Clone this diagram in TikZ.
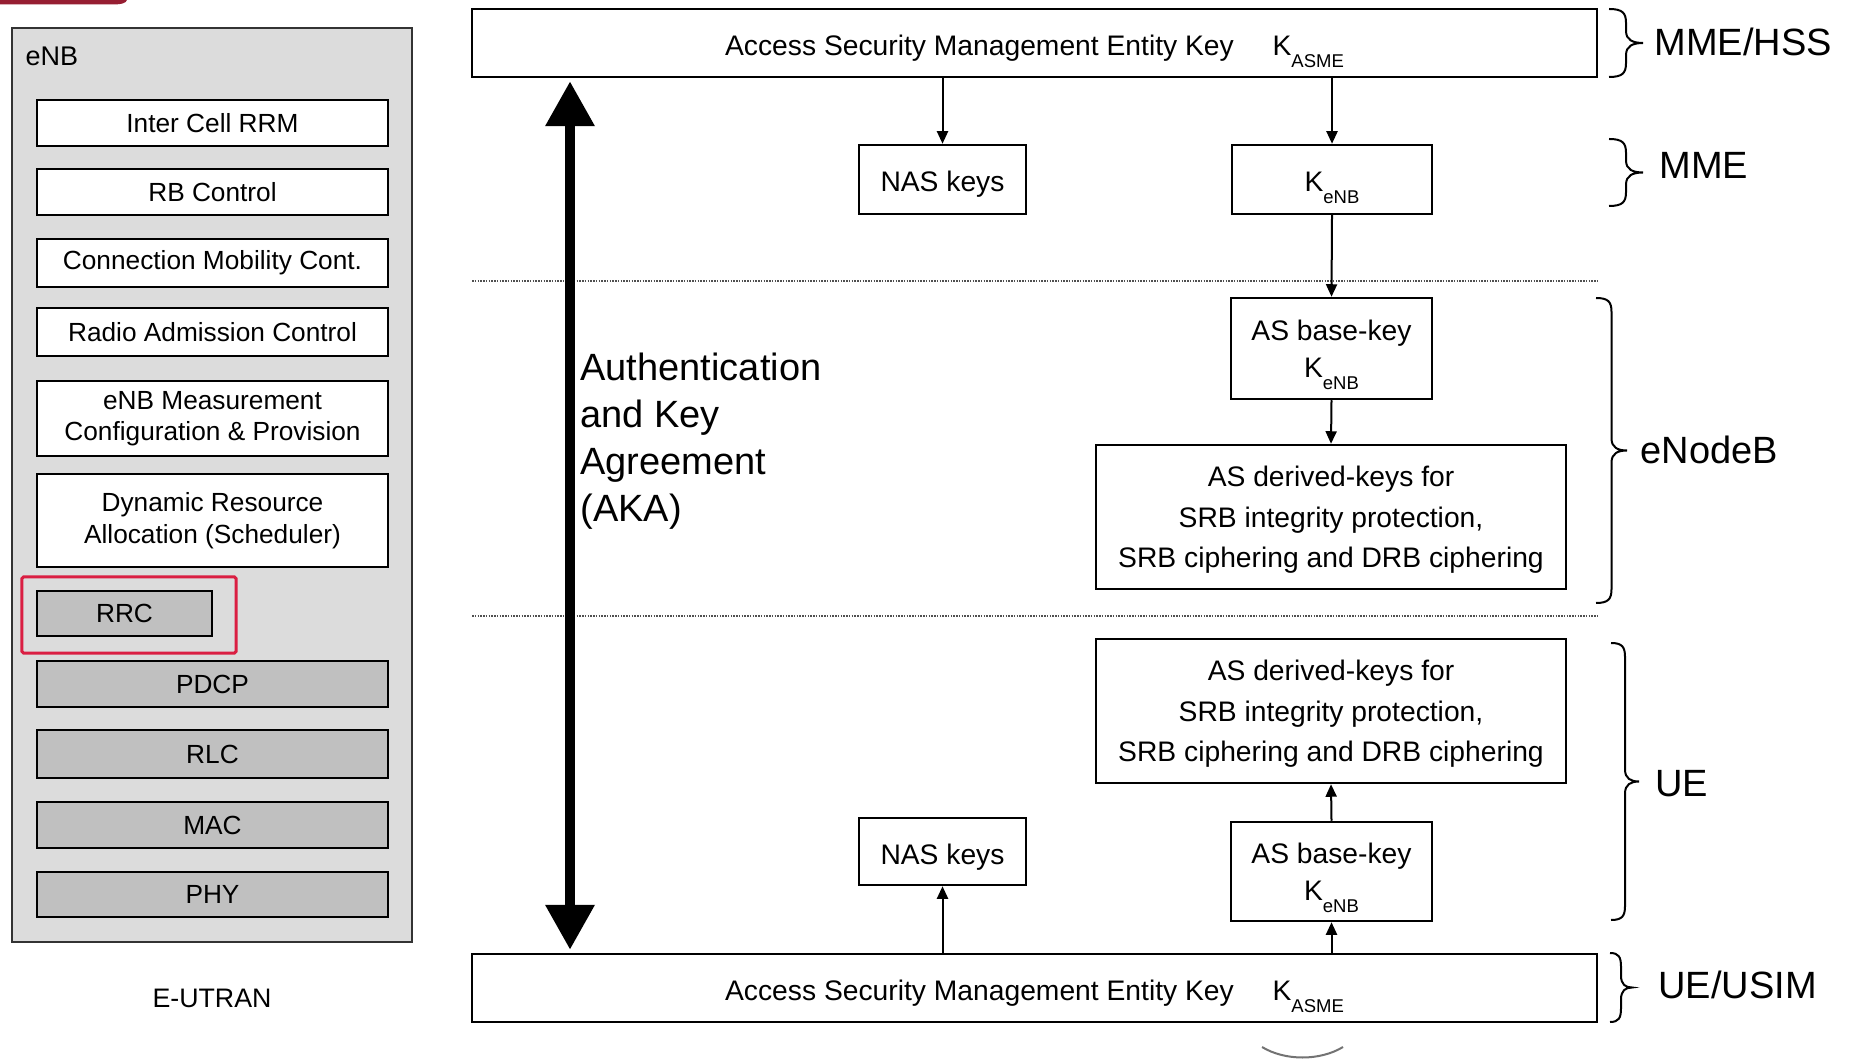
\documentclass[tikz,border=0pt]{standalone}
\usepackage{fontspec}
\setmainfont{Liberation Sans}
\usepackage{graphicx}
\usetikzlibrary{arrows.meta}

\definecolor{panelgray}{RGB}{220,220,220}
\definecolor{layergray}{RGB}{192,192,192}
\definecolor{markred}{RGB}{218,30,66}
\definecolor{logored}{RGB}{150,30,50}
\definecolor{dotgray}{RGB}{80,80,80}

% key symbol with a lowered, smaller index that does not change the line depth
\newcommand{\Ksub}[1]{K\smash{\raisebox{-4.8pt}{\fontsize{7.4}{8}\selectfont #1}}}

% right-hand curly brace: x, top y, bottom y, width (picture units)
\newcommand{\sidebrace}[4]{%
  \draw[bracepen] (#1,#2) .. controls (#1+0.4*#4,#2) and (#1+0.5*#4,#2+4) .. (#1+0.5*#4,#2+14)
    -- (#1+0.5*#4,{(#2+#3)/2-12}) .. controls (#1+0.5*#4,{(#2+#3)/2-3}) and (#1+0.7*#4,{(#2+#3)/2}) .. (#1+#4,{(#2+#3)/2})
    .. controls (#1+0.7*#4,{(#2+#3)/2}) and (#1+0.5*#4,{(#2+#3)/2+3}) .. (#1+0.5*#4,{(#2+#3)/2+12})
    -- (#1+0.5*#4,#3-14) .. controls (#1+0.5*#4,#3-4) and (#1+0.4*#4,#3) .. (#1,#3);}

\tikzset{
  panel/.style={draw=black!80, fill=panelgray, line width=1pt, inner sep=0pt},
  funcbox/.style={draw=black, fill=white, line width=1pt, minimum width=140.4pt,
    inner sep=0pt, align=center, font=\fontsize{10.5}{12.6}\selectfont},
  layerbox/.style={funcbox, fill=layergray},
  keybox/.style={draw=black, fill=white, line width=1pt, inner sep=0pt, align=center,
    text depth=0pt, font=\fontsize{11.3}{16.3}\selectfont},
  onekey/.style={keybox, text height=10pt},
  conn/.style={line width=0.8pt, -{Triangle[length=5pt,width=4.4pt]}},
  akaarrow/.style={line width=4pt,
    {Triangle[length=18pt,width=18.8pt]}-{Triangle[length=18pt,width=18.8pt]}},
  divider/.style={dotgray, line width=0.7pt, dash pattern=on 0.6pt off 0.5pt},
  bracepen/.style={line width=0.8pt, black},
  tier/.style={font=\fontsize{15.2}{18}\selectfont, anchor=west, inner sep=0pt, text depth=0pt},
}

\begin{document}
\begin{tikzpicture}[x=0.4pt,y=-0.4pt]
\fill[white] (0,0) rectangle (1850,1063);
\useasboundingbox (0,0) rectangle (1850,1063);

% logo remnant at the top edge
\fill[logored] (0,0) -- (127,0) .. controls (126,3) and (122,4.5) .. (112,4.5) -- (0,4.5) -- cycle;

% ---------------- eNB function stack ----------------
\node[panel, minimum width=160pt, minimum height=365.6pt] (enbpanel) at (212,485) {};
\node[anchor=base west, inner sep=0pt, font=\fontsize{10.8}{13}\selectfont] (enblabel) at (25,66) {eNB};

\node[funcbox, minimum height=18.4pt] (icrrm) at (212.5,123) {Inter Cell RRM};
\node[funcbox, minimum height=18.4pt] (rbc) at (212.5,192) {RB Control};
\node[funcbox, minimum height=19.2pt] (cmc) at (212.5,263) {Connection Mobility Cont.};
\node[funcbox, minimum height=19.2pt] (rac) at (212.5,332) {Radio Admission Control};
\node[funcbox, minimum height=30pt] (meas) at (212.5,418.5) {eNB Measurement\\Configuration \& Provision};
\node[funcbox, minimum height=37.2pt] (dra) at (212.5,520.5) {Dynamic Resource\\Allocation (Scheduler)};

\node[draw=markred, line width=1.2pt, rounded corners=0.6pt, minimum width=85.6pt,
  minimum height=30.4pt, inner sep=0pt] (rrcmark) at (129,615) {};
\node[layerbox, minimum width=70pt, minimum height=18pt] (rrc) at (124.5,613.5) {RRC};
\node[layerbox, minimum height=18.4pt] (pdcp) at (212.5,684) {PDCP};
\node[layerbox, minimum height=19.2pt] (rlc) at (212.5,754) {RLC};
\node[layerbox, minimum height=18.4pt] (mac) at (212.5,825) {MAC};
\node[layerbox, minimum height=18pt] (phy) at (212.5,894.5) {PHY};

\node[inner sep=0pt, font=\fontsize{10.7}{13}\selectfont] (eutran) at (212,998) {E-UTRAN};

% ---------------- key hierarchy ----------------
\coordinate (divAL) at (472,281);
\coordinate (divAR) at (1597,281);
\coordinate (divBL) at (472,616);
\coordinate (divBR) at (1597,616);
\draw[divider] (divAL) -- (divAR);
\draw[divider] (divBL) -- (divBR);

\node[onekey, minimum width=450pt, minimum height=27.2pt] (asmeT) at (1034.5,43)
  {Access Security Management Entity Key\hspace{15.5pt}\Ksub{ASME}};
\node[onekey, minimum width=66.8pt, minimum height=27.6pt] (nasT) at (942.5,179.5) {NAS keys};
\node[onekey, minimum width=80pt, minimum height=27.6pt] (kenb) at (1332,179.5) {\Ksub{eNB}};
\node[keybox, minimum width=80.4pt, minimum height=40.4pt, font=\fontsize{11.3}{14.8}\selectfont]
  (asbE) at (1331.5,348.5) {AS base-key\\\Ksub{eNB}};
\node[keybox, minimum width=188pt, minimum height=57.6pt] (asdE) at (1331,517)
  {AS derived-keys for\\SRB integrity protection,\\SRB ciphering and DRB ciphering};

\node[keybox, minimum width=188pt, minimum height=57.6pt] (asdU) at (1331,711)
  {AS derived-keys for\\SRB integrity protection,\\SRB ciphering and DRB ciphering};
\node[keybox, minimum width=80.4pt, minimum height=39.6pt, font=\fontsize{11.3}{14.8}\selectfont]
  (asbU) at (1331.5,871.5) {AS base-key\\\Ksub{eNB}};
\node[onekey, minimum width=66.8pt, minimum height=26.8pt] (nasU) at (942.5,851.5) {NAS keys};
\node[onekey, minimum width=450pt, minimum height=27.2pt] (asmeB) at (1034.5,988)
  {Access Security Management Entity Key\hspace{15.5pt}\Ksub{ASME}};

% derivation arrows
\draw[conn] (asmeT.south -| nasT.north) -- (nasT.north);
\draw[conn] (asmeT.south -| kenb.north) -- (kenb.north);
\draw[conn] (kenb.south) -- (asbE.north);
\draw[conn] (asbE.south) -- (asdE.north);
\draw[conn] (asmeB.north -| nasU.south) -- (nasU.south);
\draw[conn] (asmeB.north -| asbU.south) -- (asbU.south);
\draw[conn] (asbU.north) -- (asdU.south);

% AKA run between network and UE
\coordinate (akax) at (570,500);
\draw[akaarrow, shorten <=1.2pt, shorten >=1.2pt] (asmeT.south -| akax) -- (asmeB.north -| akax);
\node[anchor=north west, inner sep=0pt, align=left, font=\fontsize{15.2}{18.8}\selectfont]
  (akatext) at (580,352) {Authentication\\and Key\\Agreement\\(AKA)};

% entity braces and labels
\sidebrace{1609}{9}{77}{34}
\sidebrace{1609}{139}{206}{34}
\sidebrace{1596}{298}{603}{31}
\sidebrace{1611}{643}{920}{28}
\sidebrace{1610}{953}{1022}{22}
\node[tier] (lmmehss) at (1654,42) {MME/HSS};
\node[tier] (lmme) at (1659,165) {MME};
\node[tier] (lenodeb) at (1640,450) {eNodeB};
\node[tier] (lue) at (1655,783) {UE};
\node[tier] (lueusim) at (1658,985) {UE/USIM};

% partial arc below the lower key box
\draw[black!55, line width=0.8pt] (1262,1047) .. controls (1285,1061) and (1320,1061) .. (1343,1047);
\end{tikzpicture}
\end{document}
